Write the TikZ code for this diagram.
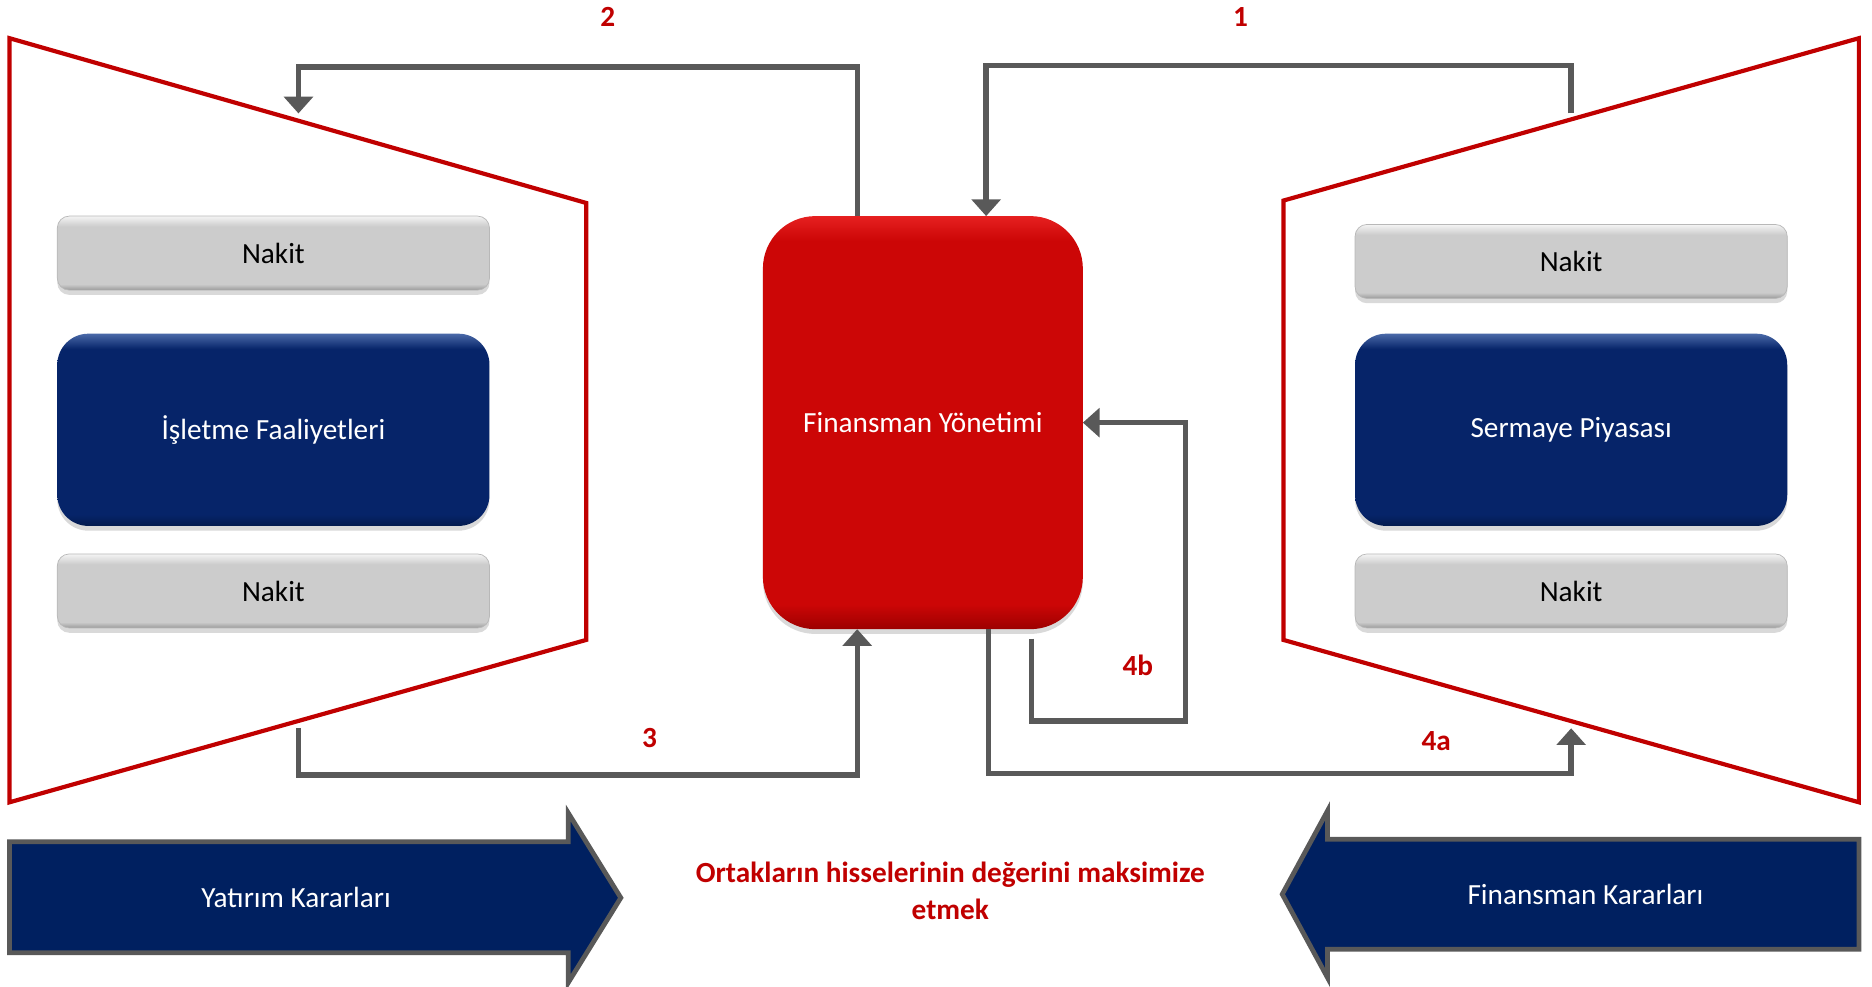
\documentclass[tikz,border=0pt]{standalone}
\usepackage{fontspec}
\setmainfont{Carlito}
\usetikzlibrary{arrows.meta,shadows,calc}
\definecolor{conn}{HTML}{595959}
\definecolor{trap}{HTML}{C00000}
\definecolor{navy}{HTML}{002060}
\definecolor{lbl}{HTML}{C00000}
\definecolor{bluetop}{HTML}{4A69A8}
\definecolor{bluemain}{HTML}{062469}
\definecolor{bluebot}{HTML}{031A4E}
\definecolor{graytop}{HTML}{F4F4F4}
\definecolor{graymain}{HTML}{CCCCCC}
\definecolor{graybot}{HTML}{9A9A9A}
\definecolor{redtop}{HTML}{E62020}
\definecolor{redmain}{HTML}{CC0606}
\definecolor{redbot}{HTML}{9C0000}
\pgfdeclareverticalshading{blueshade}{100bp}{color(0bp)=(bluebot); color(25bp)=(bluebot); color(28bp)=(bluemain); color(71bp)=(bluemain); color(75bp)=(bluetop); color(100bp)=(bluetop)}
\pgfdeclareverticalshading{grayshade}{100bp}{color(0bp)=(graybot); color(25bp)=(graybot); color(29bp)=(graymain); color(68bp)=(graymain); color(75bp)=(graytop); color(100bp)=(graytop)}
\pgfdeclareverticalshading{redshade}{100bp}{color(0bp)=(redbot); color(25bp)=(redbot); color(28bp)=(redmain); color(72bp)=(redmain); color(75bp)=(redtop); color(100bp)=(redtop)}
\begin{document}
\begin{tikzpicture}[x=1pt,y=-1pt,
  every node/.style={font=\fontsize{24.5}{29}\selectfont, inner sep=0pt, outer sep=0pt},
  myshadow/.style={drop shadow={shadow xshift=0pt,shadow yshift=-4pt,opacity=.15,fill=black}},
  graybox/.style={rectangle, rounded corners=10pt, minimum width=362pt, minimum height=62pt,
    shading=grayshade, shading angle=0, draw=graybot!70, line width=.6pt, text=black, myshadow},
  bluebox/.style={rectangle, rounded corners=26pt, minimum width=362pt, minimum height=161pt,
    shading=blueshade, shading angle=0, text=white, myshadow},
  redbox/.style={rectangle, rounded corners=44pt, minimum width=268pt, minimum height=346pt,
    shading=redshade, shading angle=0, text=white, myshadow},
  trapline/.style={draw=trap, line width=3.5pt, line join=miter},
  conline/.style={draw=conn, line width=4.5pt, line join=miter, -{Triangle[width=24pt,length=14pt]}},
  num/.style={text=lbl, font=\fontsize{24.5}{29}\selectfont\bfseries},
  blockarrow/.style={fill=navy, draw=conn, line width=4pt, line join=miter},
]
\useasboundingbox (0,0) rectangle (1568,826);

% trapezoids
\draw[trapline] (8,32) -- (491,170) -- (491,536) -- (8,672) -- cycle;
\draw[trapline] (1075,168) -- (1557,32) -- (1557,672) -- (1075,536) -- cycle;

% boxes
\node[graybox] (ln1) at (229,212) {Nakit};
\node[bluebox] (isl) at (229,360) {İşletme Faaliyetleri};
\node[graybox] (ln2) at (229,495) {Nakit};
\node[graybox] (rn1) at (1316,219) {Nakit};
\node[bluebox] (ser) at (1316,360) {Sermaye Piyasası};
\node[graybox] (rn2) at (1316,495) {Nakit};
\node[redbox] (fin) at (773,354) {Finansman Yönetimi};

% connector end points on the trapezoids
\coordinate (t2) at (250,95);
\coordinate (t1) at (1316,95);
\coordinate (b3) at (250,610);
\coordinate (b4a) at (1316,610);

% connectors
\draw[conline] ([xshift=-55pt]fin.north) -- ++(0,-125) -| (t2);
\draw[conline] (t1) -- ++(0,-40) -| ([xshift=53pt]fin.north);
\draw[conline] (b3) -- ++(0,39) -| ([xshift=-55pt]fin.south);
\draw[conline] ([xshift=55pt]fin.south) -- ++(0,121) -| (b4a);
\draw[conline] ([shift={(91,8)}]fin.south) -- ++(0,69) -- ++(129,0) |- (fin.east);

% labels
\node[num] (l2) at (509,14) {2};
\node[num] (l1) at (1039,14) {1};
\node[num] (l3) at (544,618) {3};
\node[num] (l4b) at (953,557) {4b};
\node[num] (l4a) at (1203,621) {4a};

% block arrows
\draw[blockarrow] (8,705) -- (476,705) -- (476,681) -- (520,752) -- (476,823) -- (476,798) -- (8,798) -- cycle;
\node[text=white] (yat) at (248,752) {Yatırım Kararları};
\draw[blockarrow] (1557,703) -- (1112,703) -- (1112,679) -- (1074,749) -- (1112,819) -- (1112,795) -- (1557,795) -- cycle;
\node[text=white] (fka) at (1328,749) {Finansman Kararları};

% goal text
\node[align=center, text=lbl, font=\fontsize{24.5}{31}\selectfont\bfseries] (goal) at (796,746)
  {Ortakların hisselerinin değerini maksimize\\etmek};
\end{tikzpicture}
\end{document}
